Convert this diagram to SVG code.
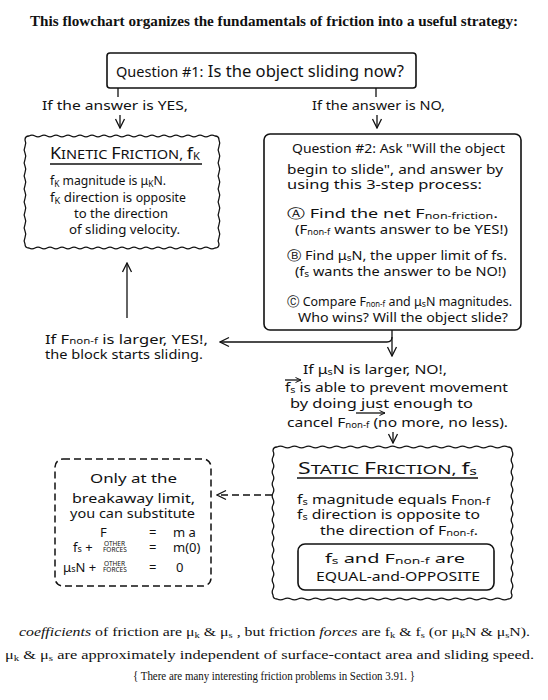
<svg xmlns="http://www.w3.org/2000/svg" width="548" height="700" viewBox="0 0 548 700">
<defs>
<style>
.ttl{font-family:"Liberation Serif","Times New Roman",serif;font-weight:bold;font-size:14px;fill:#111}
.cap{font-family:"Liberation Serif","Times New Roman",serif;font-size:13.5px;fill:#111}
.h{font-family:"Noto Sans","DejaVu Sans",sans-serif;font-size:13px;fill:#111}
.hb{font-family:"Noto Sans","DejaVu Sans",sans-serif;font-size:16px;fill:#111}
.sb{font-size:9px}
.tiny{font-family:"Noto Sans","DejaVu Sans",sans-serif;font-size:6.5px;fill:#111}
.box{fill:none;stroke:#111;stroke-width:1.6}
.wave{fill:none;stroke:#111;stroke-width:1.3}
.dash{fill:none;stroke:#111;stroke-width:1.5;stroke-dasharray:7 4}
.ln{fill:none;stroke:#111;stroke-width:1.3}
</style>
<marker id="ah" viewBox="0 0 12 12" refX="11" refY="6" markerWidth="12" markerHeight="12" markerUnits="userSpaceOnUse" orient="auto"><path d="M2,1.5 L11,6 L2,10.5" fill="none" stroke="#111" stroke-width="1.3"/></marker>
<marker id="ahs" viewBox="0 0 8 8" refX="7.5" refY="4" markerWidth="8" markerHeight="8" markerUnits="userSpaceOnUse" orient="auto"><path d="M2,1.5 L7.5,4 L2,6.5" fill="none" stroke="#111" stroke-width="1"/></marker>
</defs>
<rect width="548" height="700" fill="#fff"/>

<g id="title">
<text class="ttl" x="30" y="26" textLength="488" lengthAdjust="spacingAndGlyphs">This flowchart organizes the fundamentals of friction into a useful strategy:</text>
</g>

<g id="q1">
<rect class="box" x="107" y="53" width="309" height="35" rx="3"/>
<text class="hb" x="116" y="77" textLength="288" lengthAdjust="spacingAndGlyphs"><tspan font-size="14">Question #1:</tspan> Is the object sliding now?</text>
</g>

<g id="yes-label"><text class="h" x="42" y="110" font-size="14" textLength="146" lengthAdjust="spacingAndGlyphs">If the answer is YES,</text></g>
<g id="no-label"><text class="h" x="312" y="110" font-size="14" textLength="133" lengthAdjust="spacingAndGlyphs">If the answer is NO,</text></g>

<g id="kinetic">
<path class="wave" d="M29,136 q3,-1.6 6,0 t6,0t6,0t6,0t6,0t6,0t6,0t6,0t6,0t6,0t6,0t6,0t6,0t6,0t6,0t6,0t6,0t6,0t6,0t6,0t6,0t6,0t6,0t6,0t6,0t6,0t6,0t6,0t6,0t6,0t6,0 Q219,136 219,140 q1.6,3.25 0,6.5 t0,6.5t0,6.5t0,6.5t0,6.5t0,6.5t0,6.5t0,6.5t0,6.5t0,6.5t0,6.5t0,6.5t0,6.5t0,6.5t0,6.5t0,6.5 Q219,248 215,248 q-3,1.6 -6,0 t-6,0t-6,0t-6,0t-6,0t-6,0t-6,0t-6,0t-6,0t-6,0t-6,0t-6,0t-6,0t-6,0t-6,0t-6,0t-6,0t-6,0t-6,0t-6,0t-6,0t-6,0t-6,0t-6,0t-6,0t-6,0t-6,0t-6,0t-6,0t-6,0t-6,0 Q25,248 25,244 q-1.6,-3.25 0,-6.5 t0,-6.5t0,-6.5t0,-6.5t0,-6.5t0,-6.5t0,-6.5t0,-6.5t0,-6.5t0,-6.5t0,-6.5t0,-6.5t0,-6.5t0,-6.5t0,-6.5t0,-6.5 Q25,136 29,136 Z"/>
<text class="h" x="50" y="159" font-size="12" textLength="150" lengthAdjust="spacingAndGlyphs"><tspan font-size="16">K</tspan>INETIC <tspan font-size="16">F</tspan>RICTION, <tspan font-size="16">f</tspan><tspan font-size="10" dy="1">K</tspan></text>
<line class="ln" x1="50" y1="164" x2="202" y2="164"/>
<text class="h" x="50" y="185" font-size="14" textLength="116" lengthAdjust="spacingAndGlyphs">f<tspan class="sb" dy="2">K</tspan><tspan dy="-2"> magnitude is μ</tspan><tspan class="sb" dy="2">K</tspan><tspan dy="-2">N.</tspan></text>
<text class="h" x="50" y="202" font-size="14" textLength="136" lengthAdjust="spacingAndGlyphs">f<tspan class="sb" dy="2">K</tspan><tspan dy="-2"> direction is </tspan><tspan font-size="12">opposite</tspan></text>
<text class="h" x="74" y="218" font-size="14" textLength="94" lengthAdjust="spacingAndGlyphs">to the direction</text>
<text class="h" x="69" y="234" font-size="14" textLength="111" lengthAdjust="spacingAndGlyphs">of sliding velocity.</text>
</g>

<g id="q2">
<rect class="box" x="264" y="134" width="257" height="196" rx="6"/>
<text class="h" x="292" y="153" textLength="213" lengthAdjust="spacingAndGlyphs">Question #2: Ask "Will the object</text>
<text class="h" x="287" y="174" font-size="14" textLength="216" lengthAdjust="spacingAndGlyphs">begin to slide", and answer by</text>
<text class="h" x="287" y="189" font-size="14" textLength="195" lengthAdjust="spacingAndGlyphs">using this 3-step process:</text>
<text class="h" x="287" y="218" font-size="14" textLength="211" lengthAdjust="spacingAndGlyphs">Ⓐ Find the net F<tspan class="sb" dy="1">non-friction</tspan><tspan dy="-1">.</tspan></text>
<text class="h" x="295" y="234" font-size="12" textLength="213" lengthAdjust="spacingAndGlyphs">(F<tspan font-size="8" dy="1">non-f</tspan><tspan dy="-1"> wants answer to be YES!)</tspan></text>
<text class="h" x="287" y="260" font-size="14" textLength="220" lengthAdjust="spacingAndGlyphs">Ⓑ Find μ<tspan class="sb" dy="1">s</tspan><tspan dy="-1">N, the upper limit of fs.</tspan></text>
<text class="h" x="295" y="276" font-size="13" textLength="211" lengthAdjust="spacingAndGlyphs">(f<tspan class="sb" dy="1">s</tspan><tspan dy="-1"> wants the answer to be NO!)</tspan></text>
<text class="h" x="287" y="306" textLength="225" lengthAdjust="spacingAndGlyphs">Ⓒ Compare F<tspan font-size="8" dy="1">non-f</tspan><tspan dy="-1"> and μ</tspan><tspan class="sb" dy="1">s</tspan><tspan dy="-1">N magnitudes.</tspan></text>
<text class="h" x="298" y="322" font-size="14" textLength="210" lengthAdjust="spacingAndGlyphs">Who wins? Will the object slide?</text>
</g>

<g id="yes-result">
<text class="h" x="45" y="344" font-size="14" textLength="163" lengthAdjust="spacingAndGlyphs">If F<tspan font-size="9">non-f</tspan> is larger, YES!,</text>
<text class="h" x="45" y="359" font-size="14" textLength="158" lengthAdjust="spacingAndGlyphs">the block starts sliding.</text>
</g>

<g id="no-result">
<text class="h" x="303" y="374" font-size="14" textLength="144" lengthAdjust="spacingAndGlyphs">If μ<tspan class="sb" dy="1">s</tspan><tspan dy="-1">N is larger, NO!,</tspan></text>
<text class="h" x="285" y="392" textLength="223" lengthAdjust="spacingAndGlyphs">f<tspan class="sb" dy="1">s</tspan><tspan dy="-1"> is able to prevent movement</tspan></text>
<line class="ln" x1="285" y1="380" x2="301" y2="380" stroke-width="1" marker-end="url(#ahs)"/>
<text class="h" x="290" y="408" font-size="14" textLength="183" lengthAdjust="spacingAndGlyphs">by doing just enough to</text>
<text class="h" x="287" y="427" font-size="13" textLength="221" lengthAdjust="spacingAndGlyphs">cancel F<tspan font-size="8" dy="1">non-f</tspan><tspan dy="-1"> (no more, no less).</tspan></text>
<line class="ln" x1="356" y1="413" x2="385" y2="413" stroke-width="1" marker-end="url(#ahs)"/>
</g>

<g id="breakaway">
<rect class="dash" x="55" y="459" width="156" height="127" rx="8"/>
<text class="h" x="90" y="483" font-size="14" textLength="87" lengthAdjust="spacingAndGlyphs">Only at the</text>
<text class="h" x="72" y="503" font-size="14" textLength="123" lengthAdjust="spacingAndGlyphs">breakaway limit,</text>
<text class="h" x="70" y="518" font-size="14" textLength="125" lengthAdjust="spacingAndGlyphs">you can substitute</text>
<text class="h" x="100" y="537" font-size="14">F</text>
<text class="h" x="149" y="537">=</text>
<text class="h" x="173" y="537" font-size="14">m a</text>
<text class="h" x="73" y="552" font-size="14">f<tspan class="sb">s</tspan> +</text>
<text class="tiny" x="104" y="546">OTHER</text>
<text class="tiny" x="103" y="552">FORCES</text>
<text class="h" x="149" y="552">=</text>
<text class="h" x="173" y="552" font-size="14">m(0)</text>
<text class="h" x="63" y="572" font-size="14">μ<tspan class="sb">s</tspan>N +</text>
<text class="tiny" x="104" y="566">OTHER</text>
<text class="tiny" x="103" y="572">FORCES</text>
<text class="h" x="149" y="572">=</text>
<text class="h" x="176" y="572" font-size="15">0</text>
</g>

<g id="static">
<path class="wave" d="M277,447 q3.5,-1.6 7,0 t7,0t7,0t7,0t7,0t7,0t7,0t7,0t7,0t7,0t7,0t7,0t7,0t7,0t7,0t7,0t7,0t7,0t7,0t7,0t7,0t7,0t7,0t7,0t7,0t7,0t7,0t7,0t7,0t7,0t7,0t7,0t7,0 Q512,447 512,451 q1.6,3 0,6 t0,6t0,6t0,6t0,6t0,6t0,6t0,6t0,6t0,6t0,6t0,6t0,6t0,6t0,6t0,6t0,6t0,6t0,6t0,6t0,6t0,6t0,6t0,6 Q512,599 508,599 q-3.5,1.6 -7,0 t-7,0t-7,0t-7,0t-7,0t-7,0t-7,0t-7,0t-7,0t-7,0t-7,0t-7,0t-7,0t-7,0t-7,0t-7,0t-7,0t-7,0t-7,0t-7,0t-7,0t-7,0t-7,0t-7,0t-7,0t-7,0t-7,0t-7,0t-7,0t-7,0t-7,0t-7,0t-7,0 Q273,599 273,595 q-1.6,-3 0,-6 t0,-6t0,-6t0,-6t0,-6t0,-6t0,-6t0,-6t0,-6t0,-6t0,-6t0,-6t0,-6t0,-6t0,-6t0,-6t0,-6t0,-6t0,-6t0,-6t0,-6t0,-6t0,-6t0,-6 Q273,447 277,447 Z"/>
<text class="h" x="298" y="474" font-size="12.5" textLength="179" lengthAdjust="spacingAndGlyphs"><tspan font-size="16">S</tspan>TATIC <tspan font-size="16">F</tspan>RICTION, <tspan font-size="16">f</tspan><tspan font-size="11" dy="1">s</tspan></text>
<line class="ln" x1="297" y1="478" x2="478" y2="478"/>
<text class="h" x="297" y="504" textLength="193" lengthAdjust="spacingAndGlyphs">f<tspan class="sb" dy="1">s</tspan><tspan dy="-1"> magnitude equals F</tspan><tspan font-size="10" dy="1">non-f</tspan></text>
<text class="h" x="297" y="519" textLength="183" lengthAdjust="spacingAndGlyphs">f<tspan class="sb" dy="1">s</tspan><tspan dy="-1"> direction is opposite to</tspan></text>
<text class="h" x="320" y="535" textLength="158" lengthAdjust="spacingAndGlyphs">the direction of F<tspan class="sb" dy="1">non-f</tspan><tspan dy="-1">.</tspan></text>
<rect class="box" x="298" y="544" width="196" height="46" rx="7" stroke-width="1.4"/>
<text class="h" x="325" y="563" font-size="14" textLength="140" lengthAdjust="spacingAndGlyphs">f<tspan class="sb" dy="1">s</tspan><tspan dy="-1"> and F</tspan><tspan class="sb" dy="1">non-f</tspan><tspan dy="-1"> are</tspan></text>
<text class="h" x="316" y="581" textLength="164" lengthAdjust="spacingAndGlyphs">EQUAL-and-OPPOSITE</text>
</g>

<g id="connectors">
<path class="ln" d="M118,88 V97 M376,88 V97"/>
<path class="ln" d="M120,115 V128" marker-end="url(#ah)"/>
<path class="ln" d="M377,115 V128" marker-end="url(#ah)"/>
<path class="ln" d="M127,318 V263" marker-end="url(#ah)"/>
<path class="ln" d="M392,330 V356" marker-end="url(#ah)"/>
<path class="ln" d="M392,337 Q392,342 387,342 H220" marker-end="url(#ah)"/>
<path class="ln" d="M393,432 V443" marker-end="url(#ah)"/>
<path class="dash" d="M272,495 H217" stroke-dasharray="6 4" marker-end="url(#ah)"/>
</g>

<g id="caption">
<text class="cap" x="19" y="636" textLength="511" lengthAdjust="spacingAndGlyphs"><tspan font-style="italic">coefficients</tspan> of friction are μ<tspan class="sb" dy="2">k</tspan><tspan dy="-2"> &amp; μ</tspan><tspan class="sb" dy="2">s</tspan><tspan dy="-2"> , but friction </tspan><tspan font-style="italic">forces</tspan> are f<tspan class="sb" dy="2">k</tspan><tspan dy="-2"> &amp; f</tspan><tspan class="sb" dy="2">s</tspan><tspan dy="-2"> (or μ</tspan><tspan class="sb" dy="2">k</tspan><tspan dy="-2">N &amp; μ</tspan><tspan class="sb" dy="2">s</tspan><tspan dy="-2">N).</tspan></text>
<text class="cap" x="5" y="659" textLength="529" lengthAdjust="spacingAndGlyphs">μ<tspan class="sb" dy="2">k</tspan><tspan dy="-2"> &amp; μ</tspan><tspan class="sb" dy="2">s</tspan><tspan dy="-2"> are approximately independent of surface-contact area and sliding speed.</tspan></text>
<text class="cap" x="133" y="680" font-size="12.5" textLength="282" lengthAdjust="spacingAndGlyphs">{ There are many interesting friction problems in Section 3.91. }</text>
</g>
</svg>
